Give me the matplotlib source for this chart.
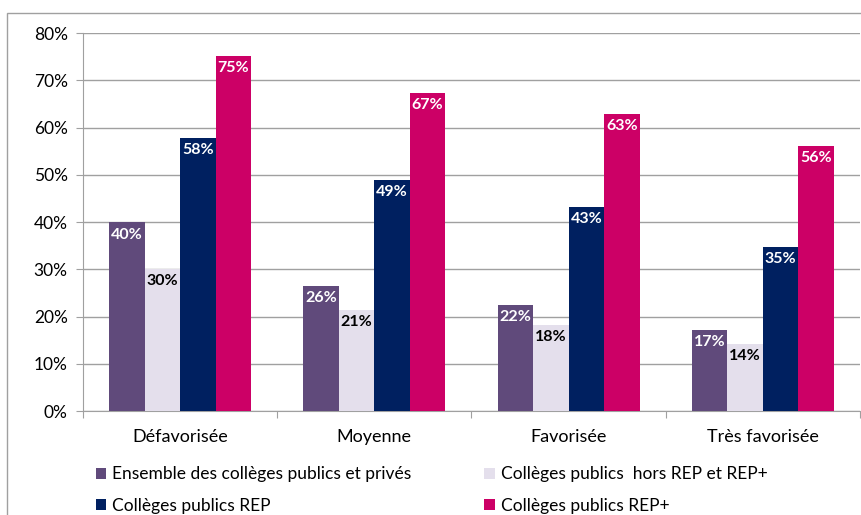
import numpy as np
import matplotlib.pyplot as plt
from matplotlib.patches import Rectangle

plt.rcParams['font.family'] = ['Lato', 'DejaVu Sans']

categories = ['Défavorisée', 'Moyenne', 'Favorisée', 'Très favorisée']
ensemble = [39.9, 26.5, 22.4, 17.1]
hors_rep = [30.0, 21.4, 18.2, 14.2]
rep = [57.8, 48.9, 43.2, 34.7]
rep_plus = [75.1, 67.3, 62.9, 56.1]
labels_ensemble = ['40%', '26%', '22%', '17%']
labels_hors = ['30%', '21%', '18%', '14%']
labels_rep = ['58%', '49%', '43%', '35%']
labels_plus = ['75%', '67%', '63%', '56%']

series = [
    ('Ensemble des collèges publics et privés', ensemble, labels_ensemble, '#604A7B', 'white'),
    ('Collèges publics  hors REP et REP+', hors_rep, labels_hors, '#E4DFEC', 'black'),
    ('Collèges publics REP', rep, labels_rep, '#002060', 'white'),
    ('Collèges publics REP+', rep_plus, labels_plus, '#CC0066', 'white'),
]

fig = plt.figure(figsize=(8.61, 5.15), dpi=100)
ax = fig.add_axes([0.0964, 0.2019, 0.9024, 0.734])

# frame around the whole chart
fig.patches.append(Rectangle((7 / 861, -0.1), 2, (515 - 13) / 515 + 0.1,
                             transform=fig.transFigure, fill=False,
                             edgecolor='#A0A0A0', linewidth=1))

x = np.arange(len(categories))
w = 0.183
bars = {}
for i, (name, vals, labs, col, tcol) in enumerate(series):
    pos = x + (i - 1.5) * w
    b = ax.bar(pos, vals, w, color=col, label=name, zorder=3)
    bars[name] = b
    for p, v, t in zip(pos, vals, labs):
        ax.text(p, v - 1.1, t, ha='center', va='top', color=tcol,
                fontsize=11.5, fontweight='bold', zorder=4)

ax.set_xlim(-0.5, 3.5)
ax.set_ylim(0, 80)
ax.set_yticks(range(0, 81, 10))
ax.set_yticklabels([f'{v}%' for v in range(0, 81, 10)], fontsize=12.5)
ax.yaxis.grid(True, color='#A0A0A0', linewidth=1, zorder=0)
ax.set_xticks([-0.5, 0.5, 1.5, 2.5, 3.5])
ax.set_xticklabels([])
ax.set_xticks(x, minor=True)
ax.set_xticklabels(categories, minor=True, fontsize=13)
ax.tick_params(axis='x', which='minor', length=0, pad=13)
ax.tick_params(axis='x', which='major', length=5, color='#A0A0A0')
ax.tick_params(axis='y', length=5, color='#A0A0A0', pad=6)
for s in ['top', 'right']:
    ax.spines[s].set_visible(False)
for s in ['left', 'bottom']:
    ax.spines[s].set_color('#A0A0A0')

handles = [bars[series[0][0]], bars[series[2][0]], bars[series[1][0]], bars[series[3][0]]]
names = [series[0][0], series[2][0], series[1][0], series[3][0]]
leg = fig.legend(handles, names, ncol=2, loc='upper left',
                 bbox_to_anchor=(0.097, 0.118), frameon=False, fontsize=12.5,
                 handlelength=0.6, handleheight=0.6, handletextpad=0.35,
                 columnspacing=4.2, labelspacing=0.88, borderpad=0.2)

fig.savefig('out.png', dpi=100)
